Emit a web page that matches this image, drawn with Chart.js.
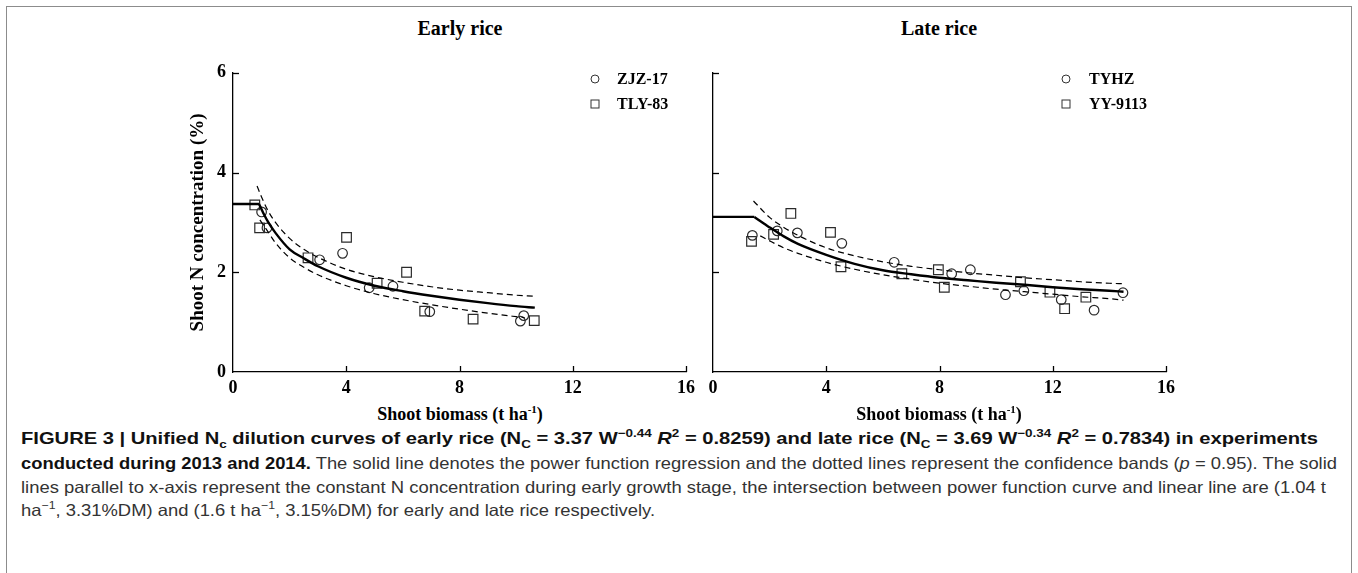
<!DOCTYPE html>
<html><head><meta charset="utf-8">
<script src="https://cdn.jsdelivr.net/npm/chart.js@4.4.1/dist/chart.umd.min.js"></script>
<style>
html,body{margin:0;padding:0;background:#fff;}
body{width:1358px;height:573px;position:relative;overflow:hidden;}
.frame{position:absolute;left:6px;top:6px;width:1346px;height:575px;border:1px solid #8c8c8c;box-sizing:border-box;}
canvas{position:absolute;}
.serif{font-family:"Liberation Serif","Times New Roman",serif;font-weight:bold;color:#000;position:absolute;white-space:nowrap;line-height:1;}
.ptitle{font-size:20px;transform:translate(-50%,-50%);}
.xtitle{font-size:18px;transform:translate(-50%,-50%);}
.xtitle sup{font-size:11px;vertical-align:0;position:relative;top:-7px;}
.leg{font-size:16px;transform:translateY(-50%);}
.mk{position:absolute;width:9px;height:9px;border:1.3px solid #333;box-sizing:border-box;transform:translate(-50%,-50%);}
.mk.c{border-radius:50%;}
.cap{position:absolute;left:21px;font-family:"Liberation Sans",Arial,sans-serif;font-size:16.5px;color:#333;white-space:nowrap;transform-origin:0 50%;line-height:1;}
.cap b{color:#111;}
.cap sub,.cap sup{font-size:11px;line-height:0;}
</style>
</head><body>
<div class="frame"></div>
<canvas id="c1" width="535" height="345" style="left:170px;top:55px;width:535px;height:345px"></canvas>
<canvas id="c2" width="535" height="345" style="left:650px;top:55px;width:535px;height:345px"></canvas>

<div class="serif ptitle" style="left:460px;top:28px">Early rice</div>
<div class="serif ptitle" style="left:939px;top:28px">Late rice</div>
<div class="serif xtitle" style="left:460px;top:414px">Shoot biomass (t ha<sup>-1</sup>)</div>
<div class="serif xtitle" style="left:939px;top:414px">Shoot biomass (t ha<sup>-1</sup>)</div>

<div class="mk c" style="left:595px;top:79px"></div>
<div class="serif leg" style="left:617px;top:79px">ZJZ-17</div>
<div class="mk" style="left:595px;top:104px"></div>
<div class="serif leg" style="left:617px;top:104px">TLY-83</div>
<div class="mk c" style="left:1066px;top:79px"></div>
<div class="serif leg" style="left:1089px;top:79px">TYHZ</div>
<div class="mk" style="left:1066px;top:104px"></div>
<div class="serif leg" style="left:1089px;top:104px">YY-9113</div>

<div class="cap" id="l1" style="top:438px"><b>FIGURE 3 | Unified N<sub>c</sub> dilution curves of early rice (N<sub>C</sub> = 3.37 W<sup>−0.44</sup> <i>R</i><sup>2</sup> = 0.8259) and late rice (N<sub>C</sub> = 3.69 W<sup>−0.34</sup> <i>R</i><sup>2</sup> = 0.7834) in experiments</b></div>
<div class="cap" id="l2" style="top:463px"><b>conducted during 2013 and 2014.</b> The solid line denotes the power function regression and the dotted lines represent the confidence bands (<i>p</i> = 0.95). The solid</div>
<div class="cap" id="l3" style="top:487px">lines parallel to x-axis represent the constant N concentration during early growth stage, the intersection between power function curve and linear line are (1.04 t</div>
<div class="cap" id="l4" style="top:510px">ha<sup>−1</sup>, 3.31%DM) and (1.6 t ha<sup>−1</sup>, 3.15%DM) for early and late rice respectively.</div>

<script>
// ---- Early rice data ----
const earlyZJZ_x = [1.01, 1.20, 3.06, 3.87, 4.81, 5.65, 6.95, 10.15, 10.27];
const earlyZJZ_y = [3.21, 2.89, 2.25, 2.38, 1.69, 1.72, 1.21, 1.02, 1.13];
const earlyTLY_x = [0.77, 0.94, 2.65, 4.01, 5.09, 6.13, 6.77, 8.48, 10.64];
const earlyTLY_y = [3.35, 2.89, 2.29, 2.70, 1.78, 2.00, 1.22, 1.06, 1.03];
const earlyPlateau_x = [0, 0.92];
const earlyPlateau_y = [3.37, 3.37];
const earlyFit_x = [0.92, 1.06, 1.25, 1.5, 2, 2.5, 3, 4, 5, 6, 7, 8, 9, 10, 10.66];
const earlyFit_y = [3.37, 3.20, 3.00, 2.79, 2.46, 2.28, 2.12, 1.89, 1.73, 1.62, 1.53, 1.45, 1.38, 1.32, 1.29];
const earlyUpper_x = [0.85, 1, 1.25, 1.5, 2, 2.5, 3, 4, 5, 6, 7, 8, 9, 10, 10.6];
const earlyUpper_y = [3.73, 3.52, 3.22, 3.00, 2.68, 2.46, 2.30, 2.06, 1.91, 1.80, 1.71, 1.64, 1.59, 1.54, 1.52];
const earlyLower_x = [0.95, 1.25, 1.5, 2, 2.5, 3, 4, 5, 6, 7, 8, 9, 10, 10.3];
const earlyLower_y = [3.05, 2.80, 2.59, 2.29, 2.10, 1.95, 1.73, 1.57, 1.45, 1.35, 1.26, 1.18, 1.11, 1.09];

// ---- Late rice data ----
const lateTYHZ_x = [1.39, 2.27, 2.98, 4.55, 6.40, 8.43, 9.09, 10.33, 10.98, 12.30, 13.46, 14.48];
const lateTYHZ_y = [2.74, 2.83, 2.79, 2.58, 2.20, 1.97, 2.05, 1.55, 1.63, 1.45, 1.24, 1.59];
const lateYY_x = [1.36, 2.14, 2.75, 4.15, 4.52, 6.67, 7.96, 8.17, 10.86, 11.90, 12.42, 13.17];
const lateYY_y = [2.62, 2.76, 3.18, 2.80, 2.11, 1.97, 2.05, 1.70, 1.81, 1.60, 1.27, 1.50];
const latePlateau_x = [0, 1.46];
const latePlateau_y = [3.11, 3.11];
const lateFit_x = [1.46, 2, 2.5, 3, 4, 5, 6, 7, 8, 9, 10, 11, 12, 13, 14, 14.5];
const lateFit_y = [3.11, 2.90, 2.72, 2.57, 2.35, 2.17, 2.04, 1.96, 1.89, 1.84, 1.79, 1.75, 1.70, 1.66, 1.63, 1.61];
const lateUpper_x = [1.43, 2, 2.5, 3, 4, 5, 6, 7, 8, 9, 10, 11, 12, 13, 14, 14.5];
const lateUpper_y = [3.43, 3.10, 2.90, 2.74, 2.49, 2.33, 2.21, 2.12, 2.05, 1.99, 1.94, 1.89, 1.85, 1.81, 1.78, 1.77];
const lateLower_x = [1.67, 2, 2.5, 3, 4, 5, 6, 7, 8, 9, 10, 11, 12, 13, 14, 14.5];
const lateLower_y = [2.73, 2.63, 2.49, 2.38, 2.20, 2.06, 1.95, 1.86, 1.78, 1.72, 1.66, 1.61, 1.56, 1.51, 1.47, 1.44];

// ---- Axis ticks ----
const xTicks = [0, 4, 8, 12, 16];
const yTicks = [0, 2, 4, 6];
const yTitle = 'Shoot N concentration (%)';

function pts(xs, ys) { return xs.map((x, i) => ({ x: x, y: ys[i] })); }
const serif = '"Liberation Serif", "Times New Roman", serif';

const innerTicks = {
  id: 'innerTicks',
  afterDraw(chart) {
    const ctx = chart.ctx, sx = chart.scales.x, sy = chart.scales.y, ca = chart.chartArea;
    ctx.save();
    ctx.strokeStyle = '#000';
    ctx.lineWidth = 1.3;
    sx.ticks.forEach(t => {
      if (t.value === sx.min) return;
      const px = Math.round(sx.getPixelForValue(t.value)) + 0.5;
      ctx.beginPath(); ctx.moveTo(px, ca.bottom); ctx.lineTo(px, ca.bottom - 6); ctx.stroke();
    });
    sy.ticks.forEach(t => {
      if (t.value === sy.min) return;
      const py = Math.round(sy.getPixelForValue(t.value)) + 0.5;
      ctx.beginPath(); ctx.moveTo(ca.left, py); ctx.lineTo(ca.left + 6, py); ctx.stroke();
    });
    ctx.restore();
  }
};

function lineDs(xs, ys, opts) {
  return Object.assign({
    data: pts(xs, ys), showLine: true, borderColor: '#000', borderWidth: 2.4,
    pointRadius: 0, fill: false, tension: 0
  }, opts || {});
}
function markDs(xs, ys, style, r) {
  return {
    data: pts(xs, ys), showLine: false, pointStyle: style, pointRadius: r,
    pointBorderWidth: 1.2, pointBorderColor: '#2b2b2b', pointBackgroundColor: 'rgba(0,0,0,0)',
    borderColor: '#2b2b2b', backgroundColor: 'rgba(0,0,0,0)'
  };
}

function makeChart(id, d, showYLabels) {
  const tickFont = { family: serif, size: 18, weight: 'bold' };
  new Chart(document.getElementById(id), {
    type: 'line',
    data: {
      datasets: [
        lineDs(d.plX, d.plY),
        lineDs(d.fitX, d.fitY, { cubicInterpolationMode: 'monotone' }),
        lineDs(d.upX, d.upY, { borderWidth: 1.2, borderDash: [6, 4], cubicInterpolationMode: 'monotone' }),
        lineDs(d.loX, d.loY, { borderWidth: 1.2, borderDash: [6, 4], cubicInterpolationMode: 'monotone' }),
        markDs(d.cX, d.cY, 'circle', 4.8),
        markDs(d.sX, d.sY, 'rect', 6.8)
      ]
    },
    options: {
      responsive: false,
      animation: false,
      events: [],
      layout: { padding: { left: 0, top: 16, right: 19, bottom: 0 } },
      plugins: { legend: { display: false }, tooltip: { enabled: false } },
      scales: {
        x: {
          type: 'linear', min: 0, max: 16,
          afterBuildTicks: s => { s.ticks = xTicks.map(v => ({ value: v })); },
          ticks: { font: tickFont, color: '#000', padding: 6, maxRotation: 0, autoSkip: false },
          grid: { display: true, drawOnChartArea: false, drawTicks: false, color: 'rgba(0,0,0,0)' },
          border: { display: true, color: '#000', width: 1.3 },
          afterFit: s => { s.height = 28; }
        },
        y: {
          type: 'linear', min: 0, max: 6,
          afterBuildTicks: s => { s.ticks = yTicks.map(v => ({ value: v })); },
          ticks: {
            font: tickFont, color: '#000', padding: 7, autoSkip: false,
            callback: v => showYLabels ? String(v) : ''
          },
          grid: { display: true, drawOnChartArea: false, drawTicks: false, color: 'rgba(0,0,0,0)' },
          border: { display: true, color: '#000', width: 1.3 },
          title: {
            display: showYLabels, text: yTitle, color: '#000',
            font: { family: serif, size: 19, weight: 'bold' }, padding: { top: 17, bottom: 0 }
          },
          afterFit: s => { s.width = 63; }
        }
      }
    },
    plugins: [innerTicks]
  });
}

makeChart('c1', {
  plX: earlyPlateau_x, plY: earlyPlateau_y, fitX: earlyFit_x, fitY: earlyFit_y,
  upX: earlyUpper_x, upY: earlyUpper_y, loX: earlyLower_x, loY: earlyLower_y,
  cX: earlyZJZ_x, cY: earlyZJZ_y, sX: earlyTLY_x, sY: earlyTLY_y
}, true);
makeChart('c2', {
  plX: latePlateau_x, plY: latePlateau_y, fitX: lateFit_x, fitY: lateFit_y,
  upX: lateUpper_x, upY: lateUpper_y, loX: lateLower_x, loY: lateLower_y,
  cX: lateTYHZ_x, cY: lateTYHZ_y, sX: lateYY_x, sY: lateYY_y
}, false);

// fit caption line widths to the reference wrap
function fitLine(id, target, k) {
  const el = document.getElementById(id);
  const w = el.getBoundingClientRect().width;
  const s = k || (target / w);
  el.style.transform = 'translateY(-50%) scaleX(' + s + ')';
  return s;
}
fitLine('l1', 1297);
const k2 = fitLine('l2', 1316);
const k3 = fitLine('l3', 1305);
fitLine('l4', 0, (k2 + k3) / 2);
</script>
</body></html>
